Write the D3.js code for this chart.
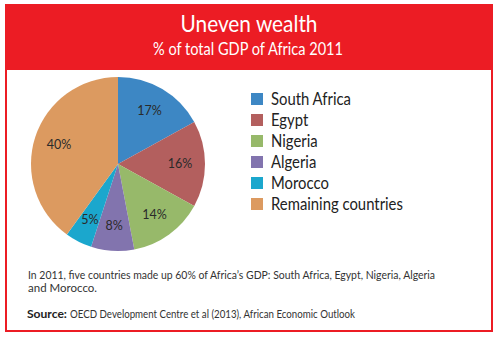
<!DOCTYPE html>
<html>
<head>
<meta charset="utf-8">
<script src="https://cdn.jsdelivr.net/npm/d3@7"></script>
<style>
  html, body { margin: 0; padding: 0; background: #fff; }
  svg { display: block; }
  text { font-family: "Lato", "Open Sans", sans-serif; }
</style>
</head>
<body>
<svg id="chart" width="500" height="338"></svg>
<script>
const title = "Uneven wealth";
const subtitle = "% of total GDP of Africa 2011";
const countries = ["South Africa", "Egypt", "Nigeria", "Algeria", "Morocco", "Remaining countries"];
const shares = [17, 16, 14, 8, 5, 40];
const colors = ["#3d87c4", "#b35f5e", "#97b96a", "#8274ae", "#1ba7cd", "#dc9a60"];
const noteLines = [
  "In 2011, five countries made up 60% of Africa\u2019s GDP: South Africa, Egypt, Nigeria, Algeria",
  "and Morocco."
];
const sourceLabel = "Source:";
const sourceText = "OECD Development Centre et al (2013), African Economic Outlook";

const svg = d3.select("#chart");
const red = "#ec1c24";

// frame
svg.append("rect").attr("x", 6).attr("y", 5).attr("width", 486).attr("height", 326)
  .attr("fill", "#fff").attr("stroke", red).attr("stroke-width", 2);
svg.append("rect").attr("x", 5).attr("y", 5).attr("width", 488).attr("height", 65).attr("fill", red);

svg.append("text").attr("x", 249).attr("y", 32).attr("text-anchor", "middle")
  .attr("fill", "#fff").attr("font-size", 24).attr("textLength", 137).attr("lengthAdjust", "spacingAndGlyphs")
  .text(title);
svg.append("text").attr("x", 248).attr("y", 55).attr("text-anchor", "middle")
  .attr("fill", "#fff").attr("font-size", 17).attr("textLength", 190).attr("lengthAdjust", "spacingAndGlyphs")
  .text(subtitle);

// pie
const cx = 118, cy = 164, R = 87;
const pie = d3.pie().sort(null).value(d => d)(shares);
const arc = d3.arc().innerRadius(0).outerRadius(R);
const labelArc = d3.arc().innerRadius(62).outerRadius(62);
const g = svg.append("g").attr("transform", `translate(${cx},${cy})`);
g.selectAll("path").data(pie).join("path")
  .attr("d", arc).attr("fill", (d, i) => colors[i]);
g.selectAll("text").data(pie).join("text")
  .attr("transform", d => `translate(${labelArc.centroid(d)})`)
  .attr("text-anchor", "middle").attr("dy", "0.35em")
  .attr("font-size", 12.5).attr("fill", "#2a2a2a")
  .text(d => d.data + "%");

// legend
const color = d3.scaleOrdinal().domain(countries).range(colors);
const ly = d3.scalePoint().domain(countries).range([99, 204]);
const leg = svg.append("g");
leg.selectAll("rect").data(countries).join("rect")
  .attr("x", 251).attr("y", d => ly(d) - 6).attr("width", 12).attr("height", 12)
  .attr("fill", d => color(d));
leg.selectAll("text").data(countries).join("text")
  .attr("x", 271).attr("y", d => ly(d)).attr("dy", "0.36em")
  .attr("font-size", 16.5).attr("fill", "#222")
  .text(d => d)
  .each(function () {
    const w = this.getComputedTextLength();
    this.setAttribute("textLength", (w * 0.9).toFixed(1));
    this.setAttribute("lengthAdjust", "spacingAndGlyphs");
  });

// note
svg.selectAll("text.note").data(noteLines).join("text").attr("class", "note")
  .attr("x", 28).attr("y", (d, i) => 279 + i * 13)
  .attr("font-size", 11.5).attr("fill", "#333")
  .attr("textLength", (d, i) => i === 0 ? 407 : null)
  .attr("lengthAdjust", "spacingAndGlyphs")
  .text(d => d);

svg.append("text").attr("x", 27).attr("y", 318).attr("font-size", 11).attr("font-weight", "bold")
  .attr("fill", "#222").attr("textLength", 40).attr("lengthAdjust", "spacingAndGlyphs")
  .text(sourceLabel);
svg.append("text").attr("x", 70).attr("y", 318).attr("font-size", 11.5).attr("fill", "#333")
  .attr("textLength", 285).attr("lengthAdjust", "spacingAndGlyphs")
  .text(sourceText);
</script>
</body>
</html>
